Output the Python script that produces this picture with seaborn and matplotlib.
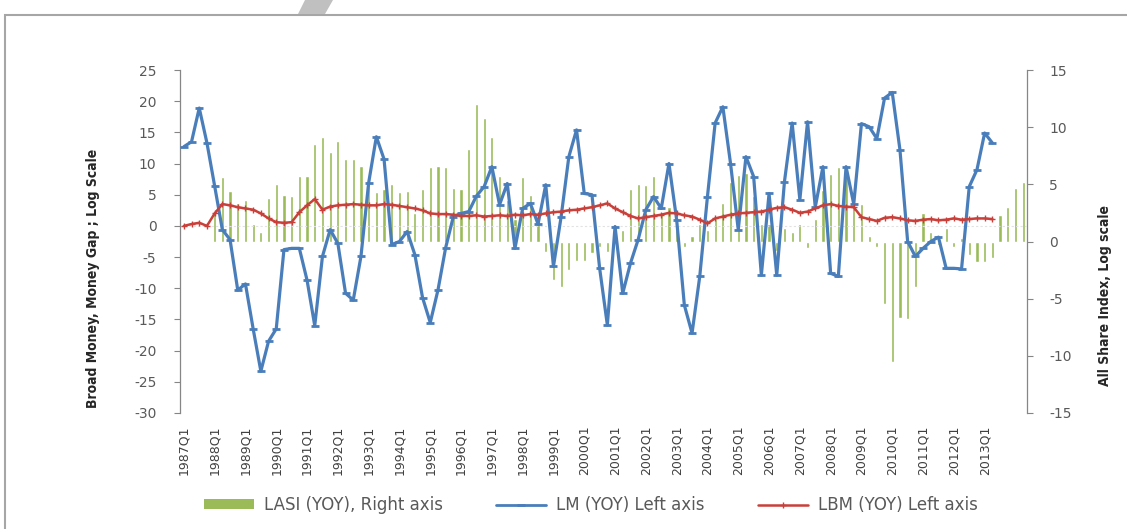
import numpy as np
import pandas as pd
import matplotlib
matplotlib.use("Agg")
import matplotlib.pyplot as plt
import seaborn as sns
from matplotlib.patches import Rectangle, Polygon, Patch
from matplotlib.lines import Line2D

# ---------------- data ----------------
quarters = [f"{y}Q{q}" for y in range(1987, 2015) for q in (1, 2, 3, 4)][:110]
tick_labels = [q for q in quarters if q.endswith("Q1")][:27]   # 1987Q1 .. 2013Q1

# LASI (YOY), right axis (bars) - starts 1988Q1
lasi = [np.nan, np.nan, np.nan, np.nan, 2.5, 5.6, 4.4, 3.4, 3.6, 1.5,
        0.8, 3.8, 5.0, 4.1, 4.0, 5.7, 5.7, 8.5, 9.1, 7.8,
        8.8, 7.2, 7.2, 6.6, 5.5, 4.3, 4.6, 5.0, 4.3, 4.4,
        2.5, 4.6, 6.5, 6.6, 6.5, 4.7, 4.6, 8.1, 12.0, 10.8,
        9.1, 5.7, 3.6, 2.0, 5.6, 4.1, 1.8, -0.9, -3.4, -4.0,
        -2.5, -1.7, -1.7, -1.0, -0.5, -0.9, 0.5, 1.0, 4.6, 5.0,
        4.9, 5.7, 2.4, 3.0, 1.0, -0.5, 0.5, 1.5, 1.0, 2.0,
        3.4, 5.2, 5.8, 6.0, 4.0, 1.5, 1.5, -0.8, 1.2, 0.8,
        1.5, -0.6, 2.0, 4.5, 5.9, 6.5, 6.2, 3.3, 3.3, 0.5,
        -0.5, -5.5, -10.5, -6.7, -6.8, -4.0, 2.5, 0.8, -0.3, 1.2,
        -0.5, 0.3, -1.2, -1.8, -1.8, -1.4, 2.3, 3.0, 4.7, 5.2]

# LM (YOY), left axis
lm = [12.7, 13.5, 18.9, 13.3, 6.4, -0.6, -2.2, -10.3, -9.3, -16.5,
      -23.3, -18.5, -16.5, -3.8, -3.6, -3.6, -8.7, -16.0, -4.9, -0.6,
      -2.8, -10.8, -11.9, -4.9, 6.9, 14.3, 10.7, -3.0, -2.5, -0.9,
      -4.6, -11.5, -15.5, -10.3, -3.5, 1.5, 2.0, 2.3, 4.8, 6.3,
      9.5, 3.4, 6.8, -3.6, 2.8, 3.6, 0.3, 6.6, -6.5, 1.5,
      11.1, 15.4, 5.2, 5.0, -6.8, -15.9, -0.1, -10.8, -6.0, -2.2,
      2.6, 4.7, 2.8, 10.0, 1.0, -12.7, -17.2, -8.1, 4.7, 16.5,
      19.1, 10.0, -0.6, 11.1, 7.9, -7.9, 5.2, -7.9, 7.1, 16.5,
      4.2, 16.7, 3.0, 9.5, -7.6, -8.1, 9.5, 3.5, 16.4, 15.9,
      14.0, 20.5, 21.4, 12.2, -2.5, -4.9, -3.6, -2.5, -1.8, -6.8,
      -6.8, -6.9, 6.3, 9.0, 14.9, 13.3]

# LBM (YOY), left axis
lbm = [0.0, 0.3, 0.5, 0.0, 2.0, 3.5, 3.3, 3.0, 2.8, 2.6,
       2.0, 1.2, 0.6, 0.5, 0.6, 2.2, 3.3, 4.3, 2.6, 3.1,
       3.3, 3.4, 3.5, 3.4, 3.3, 3.3, 3.5, 3.4, 3.2, 3.0,
       2.8, 2.5, 2.0, 1.9, 1.9, 1.8, 1.6, 1.6, 1.7, 1.5,
       1.6, 1.7, 1.6, 1.8, 1.7, 1.9, 1.8, 2.0, 2.2, 2.3,
       2.5, 2.6, 2.8, 3.0, 3.3, 3.6, 2.8, 2.2, 1.6, 1.2,
       1.4, 1.6, 1.8, 2.1, 2.0, 1.7, 1.5, 1.0, 0.4, 1.2,
       1.5, 1.8, 2.0, 2.1, 2.2, 2.3, 2.6, 2.9, 3.0, 2.6,
       2.1, 2.3, 2.8, 3.3, 3.5, 3.2, 3.1, 3.0, 1.4, 1.1,
       0.8, 1.3, 1.4, 1.2, 0.9, 0.8, 1.0, 1.1, 0.9, 1.0,
       1.2, 1.0, 1.1, 1.2, 1.2, 1.1]

series_names = ["LASI (YOY), Right axis", "LM (YOY) Left axis", "LBM (YOY) Left axis"]
left_label = "Broad Money, Money Gap ; Log Scale"
right_label = "All Share Index, Log scale"

GREEN = "#9BBB59"
BLUE = "#4A7EBB"
RED = "#C9403A"
AXIS = "#868686"
TXT = "#595959"

# ---------------- figure ----------------
sns.set_theme(style="white")
plt.rcParams["font.family"] = ["DejaVu Sans"]
plt.rcParams["axes.unicode_minus"] = False

W, H = 1127, 529
fig = plt.figure(figsize=(W / 100, H / 100), dpi=100)
fig.patch.set_facecolor("white")

ax = fig.add_axes([180 / W, 1 - 413 / H, 847 / W, 343 / H])
ax2 = ax.twinx()
ax.set_zorder(ax2.get_zorder() + 1)
ax.patch.set_visible(False)

# bars on right axis
df_bar = pd.DataFrame({"q": quarters, "v": lasi}).dropna()
sns.barplot(data=df_bar, x="q", y="v", order=quarters, color=GREEN,
            saturation=1, width=0.42, errorbar=None, ax=ax2)

# faint horizontal category axis at 0 (left)
ax.axhline(0, color="#e2e2e2", lw=0.8, ls=(0, (2, 2)), zorder=0.5)

# lines on left axis
x_lm = np.arange(len(lm))
sns.lineplot(x=x_lm, y=lm, ax=ax, color=BLUE, linewidth=2.3, marker="_",
             markersize=6, markeredgewidth=2, markeredgecolor=BLUE,
             estimator=None, sort=False, zorder=3)
x_lbm = np.arange(len(lbm))
sns.lineplot(x=x_lbm, y=lbm, ax=ax, color=RED, linewidth=1.8, marker="+",
             markersize=4, markeredgewidth=1, markeredgecolor=RED,
             estimator=None, sort=False, zorder=4)

# axes limits / ticks
ax.set_xlim(-0.5, len(quarters) - 0.5)
ax.set_ylim(-30, 25)
ax2.set_ylim(-15, 15)
ax.set_yticks(range(-30, 26, 5))
ax2.set_yticks(range(-15, 16, 5))
ax.set_xticks(range(0, 4 * len(tick_labels), 4))
ax.set_xticklabels(tick_labels, rotation=90, fontsize=9, color="#404040")
ax.tick_params(axis="x", length=0, pad=9)
ax.tick_params(axis="y", direction="out", length=4, width=0.8, color=AXIS,
               labelcolor=TXT, labelsize=10, pad=13)
ax2.tick_params(axis="y", direction="out", length=4, width=0.8, color=AXIS,
                labelcolor=TXT, labelsize=10, pad=12)
for a in (ax, ax2):
    a.set_xlabel("")
    a.set_ylabel("")
    a.grid(False)
    for s in a.spines.values():
        s.set_visible(False)
ax.spines["left"].set_visible(True)
ax.spines["left"].set_color(AXIS)
ax.spines["left"].set_linewidth(0.9)
ax2.spines["right"].set_visible(True)
ax2.spines["right"].set_color(AXIS)
ax2.spines["right"].set_linewidth(0.9)

# axis titles (condensed bold)
fig.text(93 / W, 1 - 278 / H, left_label, rotation=90, ha="center", va="center",
         fontsize=10, fontweight="bold", fontstretch="condensed",
         family=["DejaVu Sans"], color="#262626")
fig.text(1105 / W, 1 - 295 / H, right_label, rotation=90, ha="center", va="center",
         fontsize=10, fontweight="bold", fontstretch="condensed",
         family=["DejaVu Sans"], color="#262626")

# legend
handles = [
    Patch(facecolor=GREEN, edgecolor="none"),
    Line2D([], [], color=BLUE, lw=2, marker="_", ms=6, mew=2),
    Line2D([], [], color=RED, lw=1.8, marker="+", ms=4, mew=1),
]
fig.legend(handles, series_names, loc="center", bbox_to_anchor=(0.524, 1 - 505 / H),
           ncol=3, frameon=False, fontsize=12, handlelength=3.0, handleheight=0.5,
           handletextpad=0.6, columnspacing=3.2, labelcolor=TXT)

# outer chart frame and cropped watermark strip
fig.add_artist(Rectangle((5 / W, -0.1), 1.5, 1 - 15 / H + 0.1, transform=fig.transFigure,
                         fill=False, ec="#a6a6a6", lw=1.5))
fig.add_artist(Polygon([(298 / W, 1 - 14 / H), (325 / W, 1 - 14 / H),
                        (333 / W, 1.0), (305 / W, 1.0)], closed=True,
                       transform=fig.transFigure, fc="#c0c0c0", ec="none"))

fig.savefig("out.png", dpi=100)
